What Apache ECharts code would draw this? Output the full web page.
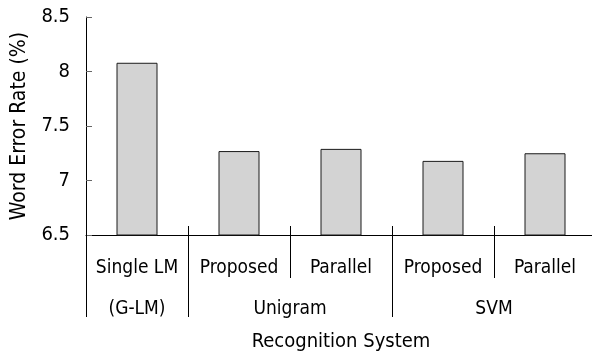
<!DOCTYPE html>
<html>
<head>
<meta charset="utf-8">
<script src="https://cdn.jsdelivr.net/npm/echarts@6/dist/echarts.min.js"></script>
<style>
  html, body { margin: 0; padding: 0; background: #fff; }
  #chart { width: 592px; height: 354px; }
</style>
</head>
<body>
<div id="chart"></div>
<script>
// Word error rate per recognition system
const systems = ['Single LM', 'Proposed', 'Parallel', 'Proposed', 'Parallel'];
const werValues = [8.08, 7.27, 7.29, 7.18, 7.25];
// Second label row: group names and the category span each covers
const groupNames = ['(G-LM)', 'Unigram', 'SVM'];
const groupSpans = [[0, 1], [1, 3], [3, 5]];
const yTicks = [6.5, 7, 7.5, 8, 8.5];

const FONT = '"DejaVu Sans Condensed", "DejaVu Sans", sans-serif';
const groupCenters = groupSpans.map(s => (s[0] + s[1]) / 2);
const outerEdges = [0].concat(groupSpans.map(s => s[1]));
const innerEdges = [];
for (let i = 1; i < systems.length; i++) {
  if (!outerEdges.includes(i)) innerEdges.push(i);
}

const chart = echarts.init(document.getElementById('chart'), null, { renderer: 'canvas' });
chart.setOption({
  animation: false,
  grid: { left: 86, top: 17, width: 510, height: 218, containLabel: false, outerBoundsMode: 'none' },
  xAxis: [
    {
      type: 'category',
      data: systems,
      position: 'bottom',
      axisLine: { show: true, lineStyle: { color: '#000', width: 1 } },
      axisTick: { show: true, inside: true, length: 9, interval: 0, lineStyle: { color: '#000' } },
      axisLabel: { color: '#000', fontFamily: FONT, fontSize: 19, margin: 24, interval: 0, hideOverlap: false },
      splitLine: { show: false }
    },
    {
      type: 'value', min: 0, max: systems.length,
      position: 'bottom',
      axisLine: { show: false },
      axisTick: { show: true, length: 82, customValues: outerEdges, lineStyle: { color: '#000' } },
      axisLabel: {
        show: true, customValues: groupCenters, color: '#000', fontFamily: FONT, fontSize: 19, margin: 65,
        formatter: v => groupNames[groupCenters.indexOf(v)]
      },
      splitLine: { show: false },
      name: 'Recognition System',
      nameLocation: 'middle',
      nameGap: 97,
      nameTextStyle: { color: '#000', fontFamily: FONT, fontSize: 20 }
    },
    {
      type: 'value', min: 0, max: systems.length,
      position: 'bottom',
      axisLine: { show: false },
      axisTick: { show: true, length: 43, customValues: innerEdges, lineStyle: { color: '#000' } },
      axisLabel: { show: false },
      splitLine: { show: false }
    }
  ],
  yAxis: {
    type: 'value',
    min: yTicks[0], max: yTicks[yTicks.length - 1], interval: 0.5,
    name: 'Word Error Rate (%)',
    nameLocation: 'middle',
    nameGap: 54,
    nameTextStyle: { color: '#000', fontFamily: FONT, fontSize: 21 },
    axisLine: { show: true, lineStyle: { color: '#000', width: 1 } },
    axisTick: { show: true, inside: true, length: 6, lineStyle: { color: '#666' } },
    axisLabel: { color: '#000', fontFamily: FONT, fontSize: 20, margin: 16 },
    splitLine: { show: false }
  },
  series: [{
    type: 'bar',
    data: werValues,
    barWidth: 41,
    itemStyle: { color: '#d3d3d3', borderColor: '#1a1a1a', borderWidth: 1 }
  }]
});
</script>
</body>
</html>
